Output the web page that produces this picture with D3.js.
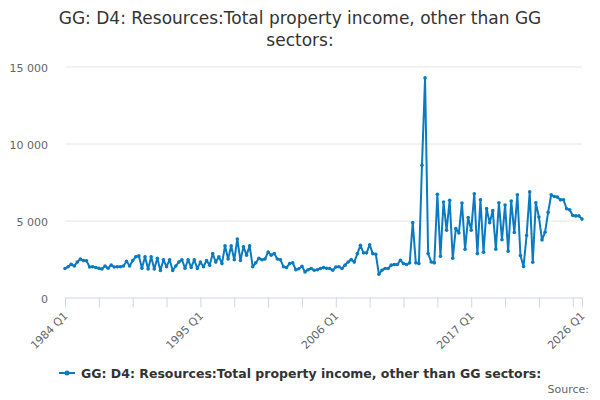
<!DOCTYPE html>
<html>
<head>
<meta charset="utf-8">
<script src="https://cdn.jsdelivr.net/npm/d3@7"></script>
<style>
  body { margin: 0; background: #fff; }
  text { font-family: "DejaVu Sans", sans-serif; }
</style>
</head>
<body>
<div id="chart"></div>
<script>
var width = 600;
var height = 400;

var titleLines = ['GG: D4: Resources:Total property income, other than GG', 'sectors:'];
var seriesName = 'GG: D4: Resources:Total property income, other than GG sectors:';
var firstYear = 1984;
var tickLabels = ['1984 Q1', '1995 Q1', '2006 Q1', '2017 Q1', '2026 Q1'];
var yTicks = [0, 5000, 10000, 15000];

// quarterly values, 1984 Q1 .. 2026 Q1
var values = [
  1880, 2000, 2150, 2050, 2300, 2500, 2400, 2380, 1980, 2000,
  1950, 1900, 1850, 2050, 1900, 2100, 1980, 2000, 2000, 2050,
  2350, 2050, 2400, 2650, 2700, 1900, 2650, 1850, 2650, 1850,
  2550, 1750, 2450, 2000, 2450, 1750, 2050, 2300, 2450, 1900,
  2450, 1950, 2450, 1880, 2300, 2000, 2400, 2100, 2850, 2300,
  2650, 2200, 3350, 2500, 3350, 2450, 3800, 2400, 3300, 2750,
  3350, 2000, 2250, 2550, 2450, 2500, 2950, 2750, 2850, 2500,
  2450, 2000, 1950, 2200, 2250, 1800, 1870, 2030, 1660, 1800,
  1880, 1770, 1800, 1880, 1940, 1900, 1880, 1770, 1980, 2000,
  1880, 2100, 2310, 2460, 2300, 2850, 3390, 2900, 2900, 3430,
  2850, 2810, 1510, 1770, 1880, 1880, 2100, 2140, 2140, 2420,
  2200, 2140, 2250, 4860, 2250, 2200, 8580, 14260, 2850, 2310,
  2250, 6700, 2680, 6200, 4370, 6310, 2550, 4470, 4190, 6140,
  3130, 5190, 4370, 6740, 2850, 6350, 2940, 5770, 4850, 5640,
  3140, 6150, 3750, 6000, 3010, 6260, 4220, 6670, 2730, 2010,
  4030, 6860, 2290, 6150, 5220, 3740, 4240, 5540, 6670, 6560,
  6520, 6340, 6340, 5760, 5690, 5320, 5300, 5300, 5090
];

var categories = values.map(function (v, i) {
  return (firstYear + Math.floor(i / 4)) + ' Q' + (i % 4 + 1);
});

var color = '#0b7bc1';

var svg = d3.select('#chart').append('svg')
    .attr('width', width)
    .attr('height', height);

var x = d3.scalePoint().domain(categories).range([65, 582]);
var y = d3.scaleLinear().domain([0, 15000]).range([297.5, 66.5]);

// title
svg.selectAll('.title')
    .data(titleLines)
  .enter().append('text')
    .attr('class', 'title')
    .attr('x', 300)
    .attr('y', function (d, i) { return 24 + i * 22; })
    .attr('text-anchor', 'middle')
    .style('font-size', '17px')
    .style('fill', '#333')
    .text(function (d) { return d; });

// grid + y labels
var fmt = function (d) { return d3.format(',')(d).replace(/,/g, ' '); };
var yAxis = svg.append('g')
    .attr('transform', 'translate(65,0)')
    .call(d3.axisLeft(y).tickValues(yTicks).tickSize(-517).tickPadding(17).tickFormat(fmt));
yAxis.select('.domain').remove();
yAxis.selectAll('line').attr('stroke', '#e6e6e6');
yAxis.selectAll('text').style('font-size', '11px').style('fill', '#666')
    .attr('font-family', null).attr('dy', '0.6em').attr('y', -2);
yAxis.selectAll('.tick').filter(function (d) { return d === 0; }).select('line').remove();

// x axis
var minorTicks = categories.filter(function (d, i) { return i % 11 === 0 || i === categories.length - 1; });
var xAxis = svg.append('g')
    .attr('transform', 'translate(0,297.5)')
    .call(d3.axisBottom(x).tickValues(minorTicks).tickSize(10).tickSizeOuter(0)
      .tickFormat(function (d) { return tickLabels.indexOf(d) >= 0 ? d : ''; }));
xAxis.select('.domain').attr('stroke', '#ccd6eb').attr('d', 'M65,0.5H582');
xAxis.selectAll('line').attr('stroke', '#ccd6eb');
xAxis.selectAll('text')
    .attr('font-family', null)
    .style('font-size', '11px')
    .style('fill', '#666')
    .attr('text-anchor', 'end')
    .attr('dy', null)
    .attr('transform', 'translate(3,19) rotate(-45)')
    .attr('y', 0)
    .attr('x', 0);

// series
var line = d3.line()
    .x(function (d, i) { return x(categories[i]); })
    .y(function (d) { return y(d); });

svg.append('path')
    .datum(values)
    .attr('d', line)
    .attr('fill', 'none')
    .attr('stroke', color)
    .attr('stroke-width', 2)
    .attr('stroke-linejoin', 'round');

svg.selectAll('.dot')
    .data(values)
  .enter().append('circle')
    .attr('class', 'dot')
    .attr('cx', function (d, i) { return x(categories[i]); })
    .attr('cy', function (d) { return y(d); })
    .attr('r', 1.8)
    .attr('fill', color);

// legend
var legend = svg.append('g').attr('transform', 'translate(59,373)');
legend.append('line')
    .attr('x1', 0).attr('x2', 16).attr('y1', 0).attr('y2', 0)
    .attr('stroke', color).attr('stroke-width', 2);
legend.append('circle').attr('cx', 8).attr('cy', 0).attr('r', 2.5).attr('fill', color);
legend.append('text')
    .attr('x', 22)
    .attr('y', 4.5)
    .style('font-size', '12.5px')
    .style('font-weight', 'bold')
    .style('fill', '#333')
    .text(seriesName);

// credits
svg.append('text')
    .attr('x', 589)
    .attr('y', 393)
    .attr('text-anchor', 'end')
    .style('font-size', '11px')
    .style('fill', '#666')
    .text('Source:');
</script>
</body>
</html>
